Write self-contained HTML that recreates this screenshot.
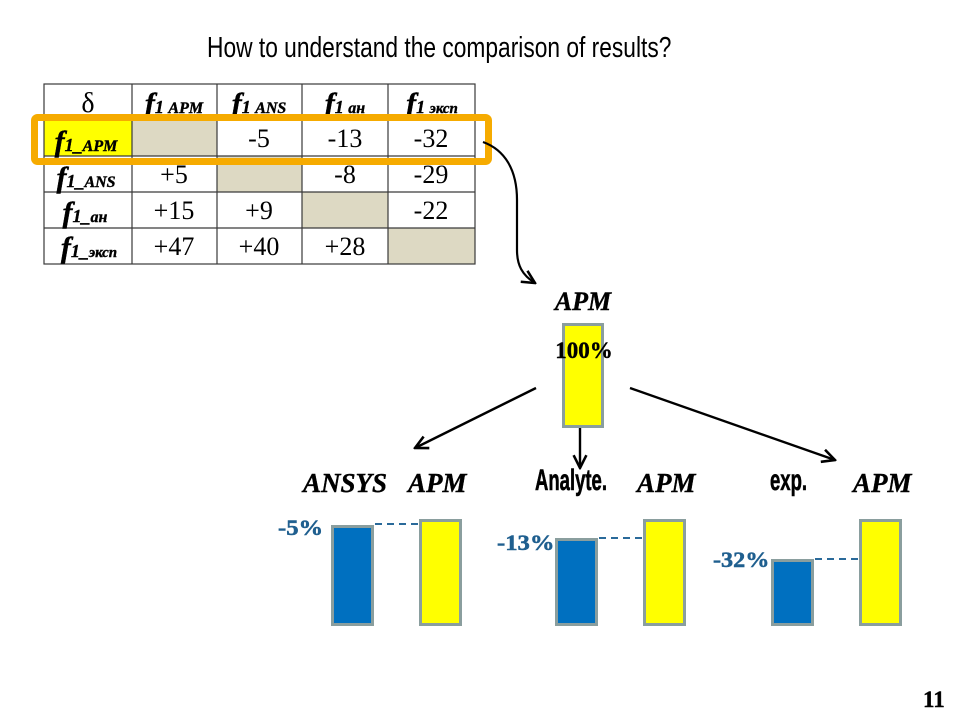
<!DOCTYPE html>
<html>
<head>
<meta charset="utf-8">
<style>
html,body{margin:0;padding:0;background:#fff;}
svg{display:block;}
.serif{font-family:"Liberation Serif","DejaVu Serif",serif;}
.bi{font-family:"Liberation Serif","DejaVu Serif",serif;font-weight:bold;font-style:italic;}
.b{font-family:"Liberation Serif","DejaVu Serif",serif;font-weight:bold;}
.narrow{font-family:"Liberation Sans Narrow","Liberation Sans",sans-serif;font-weight:bold;}
.title{font-family:"Liberation Sans Narrow","Liberation Sans",sans-serif;}
</style>
</head>
<body>
<svg width="960" height="720" viewBox="0 0 960 720" xmlns="http://www.w3.org/2000/svg">
<defs>
<marker id="ah" viewBox="0 0 10 10" refX="9" refY="5" orient="auto" markerUnits="userSpaceOnUse" markerWidth="16" markerHeight="16">
<path d="M1,1 L9,5 L1,9" fill="none" stroke="#000" stroke-width="1.6"/>
</marker>
</defs>
<rect width="960" height="720" fill="#fff"/>

<!-- Title -->
<text class="title" transform="translate(207,57) scale(0.86,1.12)" font-size="26" fill="#000" textLength="540" lengthAdjust="spacingAndGlyphs">How to understand the comparison of results?</text>

<!-- Table cell fills -->
<rect x="44" y="120" width="88" height="36" fill="#ffff00"/>
<rect x="132" y="120" width="85" height="36" fill="#ddd9c3"/>
<rect x="217" y="156" width="85" height="36" fill="#ddd9c3"/>
<rect x="302" y="192" width="86" height="36" fill="#ddd9c3"/>
<rect x="388" y="228" width="87" height="36" fill="#ddd9c3"/>

<!-- Table grid -->
<g stroke="#3a3a3a" stroke-width="1.2" fill="none">
<rect x="44" y="84" width="431" height="180"/>
<line x1="44" y1="120" x2="475" y2="120"/>
<line x1="44" y1="156" x2="475" y2="156"/>
<line x1="44" y1="192" x2="475" y2="192"/>
<line x1="44" y1="228" x2="475" y2="228"/>
<line x1="132" y1="84" x2="132" y2="264"/>
<line x1="217" y1="84" x2="217" y2="264"/>
<line x1="302" y1="84" x2="302" y2="264"/>
<line x1="388" y1="84" x2="388" y2="264"/>
</g>

<!-- Header -->
<g fill="#000">
<text class="serif" x="88" y="112" font-size="28" text-anchor="middle">δ</text>
<g class="bi" text-anchor="middle" stroke="#000" stroke-width="0.4">
<text x="174" y="113"><tspan font-size="30">f</tspan><tspan font-size="18">1 </tspan><tspan font-size="16">APM</tspan></text>
<text x="259" y="113"><tspan font-size="30">f</tspan><tspan font-size="18">1 </tspan><tspan font-size="16">ANS</tspan></text>
<text x="345" y="113"><tspan font-size="30">f</tspan><tspan font-size="18">1 </tspan><tspan font-size="16">ан</tspan></text>
<text x="432" y="113"><tspan font-size="30">f</tspan><tspan font-size="18">1 </tspan><tspan font-size="15">эксп</tspan></text>
<text x="86" y="151"><tspan font-size="30">f</tspan><tspan font-size="18">1_</tspan><tspan font-size="16">APM</tspan></text>
<text x="86" y="187"><tspan font-size="30">f</tspan><tspan font-size="18">1_</tspan><tspan font-size="16">ANS</tspan></text>
<text x="85" y="222"><tspan font-size="30">f</tspan><tspan font-size="18">1_</tspan><tspan font-size="16">ан</tspan></text>
<text x="89" y="257"><tspan font-size="30">f</tspan><tspan font-size="18">1_</tspan><tspan font-size="15">эксп</tspan></text>
</g>
<g class="serif" font-size="26" text-anchor="middle">
<text x="259" y="147">-5</text>
<text x="345" y="147">-13</text>
<text x="431" y="147">-32</text>
<text x="174" y="183">+5</text>
<text x="345" y="183">-8</text>
<text x="431" y="183">-29</text>
<text x="174" y="219">+15</text>
<text x="259" y="219">+9</text>
<text x="431" y="219">-22</text>
<text x="174" y="255">+47</text>
<text x="259" y="255">+40</text>
<text x="345" y="255">+28</text>
</g>
</g>

<!-- Orange highlight -->
<rect x="34.5" y="117.5" width="454" height="44" rx="3" ry="3" fill="none" stroke="#f6ab00" stroke-width="7"/>

<!-- Curved connector -->
<path d="M483,142 C505,150 517,170 517,200 L517,250 C517,265 522,275 535,283" fill="none" stroke="#000" stroke-width="2.2" marker-end="url(#ah)"/>

<!-- Top APM -->
<text class="bi" x="583" y="310" font-size="26" text-anchor="middle" stroke="#000" stroke-width="0.4">APM</text>
<rect x="563.5" y="324.5" width="39" height="102" fill="#ffff00" stroke="#8a9e9e" stroke-width="3"/>
<text class="b" x="584" y="358" font-size="23" text-anchor="middle" stroke="#000" stroke-width="0.4">100%</text>

<!-- Arrows -->
<g stroke="#000" stroke-width="2.4" fill="none">
<line x1="536" y1="388" x2="415" y2="448" marker-end="url(#ah)"/>
<line x1="580" y1="428" x2="580" y2="468" marker-end="url(#ah)"/>
<line x1="630" y1="388" x2="835" y2="460" marker-end="url(#ah)"/>
</g>

<!-- Bottom labels -->
<g class="bi" font-size="27" fill="#000" stroke="#000" stroke-width="0.4">
<text x="303" y="492">ANSYS</text>
<text x="408" y="492">APM</text>
<text x="637" y="492">APM</text>
<text x="853" y="492">APM</text>
</g>
<g class="narrow" font-size="30" fill="#000" stroke="#000" stroke-width="0.6">
<text x="535" y="490" textLength="72" lengthAdjust="spacingAndGlyphs">Analyte.</text>
<text x="770" y="490" textLength="37" lengthAdjust="spacingAndGlyphs">exp.</text>
</g>

<!-- Bars -->
<g stroke="#8a9e9e" stroke-width="3">
<rect x="332.5" y="526.5" width="40" height="98" fill="#0070c0"/>
<rect x="420.5" y="520.5" width="40" height="104" fill="#ffff00"/>
<rect x="556.5" y="539.5" width="40" height="85" fill="#0070c0"/>
<rect x="644.5" y="520.5" width="40" height="104" fill="#ffff00"/>
<rect x="772.5" y="560.5" width="40" height="64" fill="#0070c0"/>
<rect x="860.5" y="520.5" width="40" height="104" fill="#ffff00"/>
</g>

<!-- Dashed lines -->
<g stroke="#2a6a9a" stroke-width="2" stroke-dasharray="7 5">
<line x1="375" y1="524" x2="419" y2="524"/>
<line x1="599" y1="538" x2="643" y2="538"/>
<line x1="815" y1="559" x2="859" y2="559"/>
</g>

<!-- Percent labels -->
<g class="b" font-size="22" fill="#1f5f8f" stroke="#1f5f8f" stroke-width="0.5">
<text transform="translate(278,535) scale(1.12,1)">-5%</text>
<text transform="translate(497,550) scale(1.12,1)">-13%</text>
<text transform="translate(713,567) scale(1.1,1)">-32%</text>
</g>

<!-- Page number -->
<text class="b" x="923" y="707" font-size="23" fill="#000" stroke="#000" stroke-width="0.4">11</text>
</svg>
</body>
</html>
